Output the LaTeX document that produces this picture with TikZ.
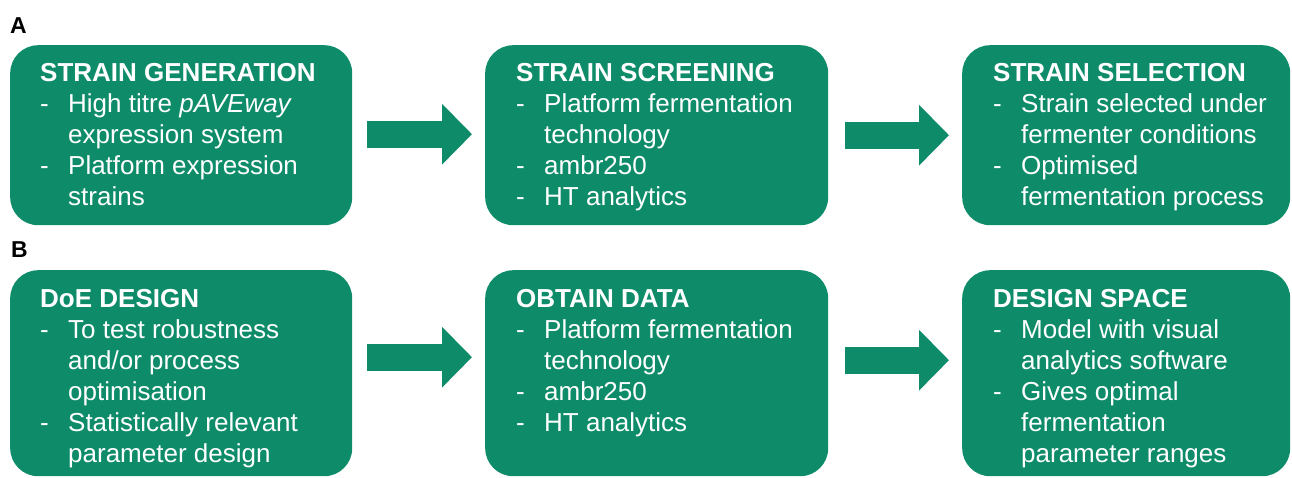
\documentclass[tikz,border=0pt]{standalone}
\usepackage{fontspec}
\setmainfont{Liberation Sans}
\usetikzlibrary{arrows.meta,calc}
\definecolor{boxgreen}{RGB}{14,140,106}
% bullet line with hanging dash, and its continuation line
\newcommand{\itm}[1]{\makebox[28pt][l]{-}#1}
\newcommand{\cnt}[1]{\hspace*{28pt}#1}
\begin{document}
\begin{tikzpicture}[x=1pt,y=-1pt,
  stagebox/.style={fill=boxgreen, draw=none, rounded corners=28pt, inner sep=0pt, anchor=north west},
  stagetext/.style={anchor=north west, inner sep=0pt, align=left, text=white,
                    font=\fontsize{26}{31}\selectfont},
  panel/.style={anchor=base west, inner sep=0pt, font=\fontsize{23}{23}\selectfont\bfseries},
  bigarrow/.style={draw=boxgreen, line width=27pt, -{Triangle[length=30pt,width=59pt]}}]
\useasboundingbox (0,0) rectangle (1292,477);

% panel letters
\node[panel] (la) at (10,33) {A};
\node[panel] (lb) at (11,257) {B};

% row A boxes
\node[stagebox, minimum width=342, minimum height=180] (a1) at (10,45) {};
\node[stagebox, minimum width=343, minimum height=180] (a2) at (485,45) {};
\node[stagebox, minimum width=328, minimum height=180] (a3) at (962,45) {};

% row B boxes
\node[stagebox, minimum width=342, minimum height=206] (b1) at (10,270) {};
\node[stagebox, minimum width=343, minimum height=206] (b2) at (485,270) {};
\node[stagebox, minimum width=328, minimum height=206] (b3) at (962,270) {};

% box texts
\node[stagetext] (ta1) at ($(a1.north west)+(30,18)$) {%
  \textbf{STRAIN GENERATION}\\
  \itm{High titre \textit{pAVEway}}\\
  \cnt{expression system}\\
  \itm{Platform expression}\\
  \cnt{strains}};
\node[stagetext] (ta2) at ($(a2.north west)+(31,18)$) {%
  \textbf{STRAIN SCREENING}\\
  \itm{Platform fermentation}\\
  \cnt{technology}\\
  \itm{ambr250}\\
  \itm{HT analytics}};
\node[stagetext] (ta3) at ($(a3.north west)+(31,18)$) {%
  \textbf{STRAIN SELECTION}\\
  \itm{Strain selected under}\\
  \cnt{fermenter conditions}\\
  \itm{Optimised}\\
  \cnt{fermentation process}};

\node[stagetext] (tb1) at ($(b1.north west)+(30,19)$) {%
  \textbf{DoE DESIGN}\\
  \itm{To test robustness}\\
  \cnt{and/or process}\\
  \cnt{optimisation}\\
  \itm{Statistically relevant}\\
  \cnt{parameter design}};
\node[stagetext] (tb2) at ($(b2.north west)+(31,19)$) {%
  \textbf{OBTAIN DATA}\\
  \itm{Platform fermentation}\\
  \cnt{technology}\\
  \itm{ambr250}\\
  \itm{HT analytics}};
\node[stagetext] (tb3) at ($(b3.north west)+(31,19)$) {%
  \textbf{DESIGN SPACE}\\
  \itm{Model with visual}\\
  \cnt{analytics software}\\
  \itm{Gives optimal}\\
  \cnt{fermentation}\\
  \cnt{parameter ranges}};

% block arrows between stages
\draw[bigarrow] ($(a1.east)+(15,-1)$) -- ($(a2.west)+(-13,-1)$);
\draw[bigarrow] ($(a2.east)+(17,0)$) -- ($(a3.west)+(-13,0)$);
\draw[bigarrow] ($(b1.east)+(15,-16)$) -- ($(b2.west)+(-13,-16)$);
\draw[bigarrow] ($(b2.east)+(17,-13)$) -- ($(b3.west)+(-13,-13)$);
\end{tikzpicture}
\end{document}
